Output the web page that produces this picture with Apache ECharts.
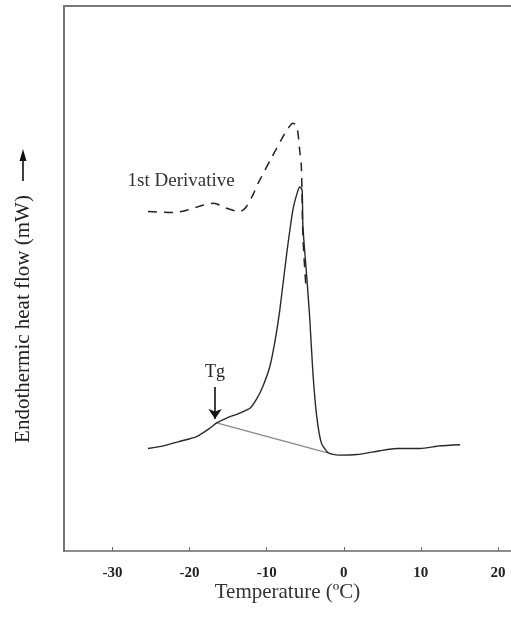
<!DOCTYPE html>
<html><head><meta charset="utf-8">
<script src="https://cdn.jsdelivr.net/npm/echarts@6/dist/echarts.min.js"></script>
<style>html,body{margin:0;padding:0;background:#fff}#c{width:511px;height:619px}</style>
</head><body><div id="c"></div>
<script>
// Tick labels on temperature axis (°C)
const tempTicks = [-30, -20, -10, 0, 10, 20];

// DSC curve: temperature (°C) and endothermic heat flow (arbitrary units)
const dscTemp = [-25.4, -23.4, -21.3, -19.1, -17.4, -16.5, -15.2, -13.5, -12.1, -11.3, -10.5, -9.6, -8.9, -8.3, -7.4, -6.6, -6.0, -5.7, -5.4, -5.3, -4.8, -4.4, -4.0, -3.5, -2.9, -2.0, -0.7, 1.7, 4.7, 6.9, 9.9, 12.5, 15.1];
const dscFlow = [18.8, 19.3, 20.1, 21.0, 22.5, 23.5, 24.4, 25.3, 26.3, 27.9, 30.2, 33.8, 38.7, 44.2, 54.6, 62.6, 65.9, 66.8, 66.2, 59.5, 50.3, 42.4, 32.6, 24.6, 19.8, 18.0, 17.6, 17.7, 18.4, 18.8, 18.8, 19.3, 19.5];

// Baseline drawn from Tg to end of transition
const baseTemp = [-16.5, -2.1];
const baseFlow = [23.5, 18.0];

// 1st derivative curve
const derivTemp = [-25.4, -22.1, -20.2, -18.2, -16.9, -15.2, -13.5, -12.8, -11.8, -11.1, -9.4, -8.7, -7.9, -7.2, -6.6, -6.1, -5.7, -5.5, -5.3, -4.9];
const derivVal = [62.3, 62.1, 62.6, 63.5, 63.8, 62.9, 62.3, 62.9, 65.3, 67.5, 72.1, 73.9, 76.0, 77.6, 78.5, 77.9, 73.3, 70.5, 57.7, 48.3];

// Annotations
const tgLabel = 'Tg';
const tgTemp = -16.7;
const tgArrowFrom = 30.1;
const tgArrowTo = 24.2;
const derivLabel = '1st Derivative';
const derivLabelTemp = -21.1;
const derivLabelVal = 67.9;

const xMin = -36.3, xMax = 21.7;
const zip = (a, b) => a.map((v, i) => [v, b[i]]);
const serif = 'Liberation Serif';

const chart = echarts.init(document.getElementById('c'), null, {renderer: 'canvas'});
chart.setOption({
  animation: false,
  backgroundColor: '#fff',
  grid: {left: 64, top: 6, right: 0, bottom: 68},
  xAxis: [{
    type: 'value', min: xMin, max: xMax, position: 'bottom',
    axisLine: {onZero: false, lineStyle: {color: '#6a6a6a', width: 1.5}},
    axisTick: {show: true, inside: true, length: 4, customValues: tempTicks, lineStyle: {color: '#6a6a6a'}},
    axisLabel: {customValues: tempTicks, fontFamily: serif, fontWeight: 'bold', fontSize: 15, color: '#222', margin: 15},
    splitLine: {show: false},
    name: 'Temperature (ºC)', nameLocation: 'middle', nameGap: 31, nameMoveOverlap: false,
    nameTextStyle: {fontFamily: serif, fontSize: 21, color: '#333'}
  }, {
    type: 'value', min: xMin, max: xMax, position: 'top',
    axisLine: {onZero: false, lineStyle: {color: '#777', width: 2}},
    axisTick: {show: false}, axisLabel: {show: false}, splitLine: {show: false}
  }],
  yAxis: {
    type: 'value', min: 0, max: 100,
    axisLine: {show: true, onZero: false, lineStyle: {color: '#777', width: 2}},
    axisTick: {show: false}, axisLabel: {show: false}, splitLine: {show: false}
  },
  series: [{
    type: 'line', data: zip(baseTemp, baseFlow), showSymbol: false, silent: true,
    lineStyle: {color: '#8a8a8a', width: 1.3}
  }, {
    type: 'line', data: zip(dscTemp, dscFlow), showSymbol: false, smooth: 0.2, silent: true,
    lineStyle: {color: '#2a2a2a', width: 1.4},
    markLine: {
      silent: true, symbol: ['none', 'arrow'], symbolSize: 10,
      lineStyle: {color: '#111', width: 1.6, type: 'solid'},
      label: {show: true, position: 'start', formatter: tgLabel, fontFamily: serif, fontSize: 18, color: '#222', distance: 6},
      data: [[{coord: [tgTemp, tgArrowFrom]}, {coord: [tgTemp, tgArrowTo]}]]
    }
  }, {
    type: 'line', data: zip(derivTemp, derivVal), showSymbol: false, smooth: 0.3, silent: true,
    lineStyle: {color: '#222', width: 1.5, type: [9, 7]},
    markPoint: {
      silent: true, symbol: 'circle', symbolSize: 0,
      label: {show: true, position: 'inside', formatter: derivLabel, fontFamily: serif, fontSize: 19, color: '#333'},
      data: [{coord: [derivLabelTemp, derivLabelVal]}]
    }
  }],
  graphic: [{
    type: 'text', x: 23, y: 319, rotation: Math.PI / 2,
    style: {text: 'Endothermic heat flow (mW)', font: '21px "Liberation Serif"', fill: '#222', align: 'center', verticalAlign: 'middle'}
  }, {
    type: 'line', shape: {x1: 23, y1: 181, x2: 23, y2: 158}, style: {stroke: '#111', lineWidth: 1.6}
  }, {
    type: 'polygon', shape: {points: [[23, 149], [19.5, 161], [26.5, 161]]}, style: {fill: '#111'}
  }]
});
</script></body></html>
